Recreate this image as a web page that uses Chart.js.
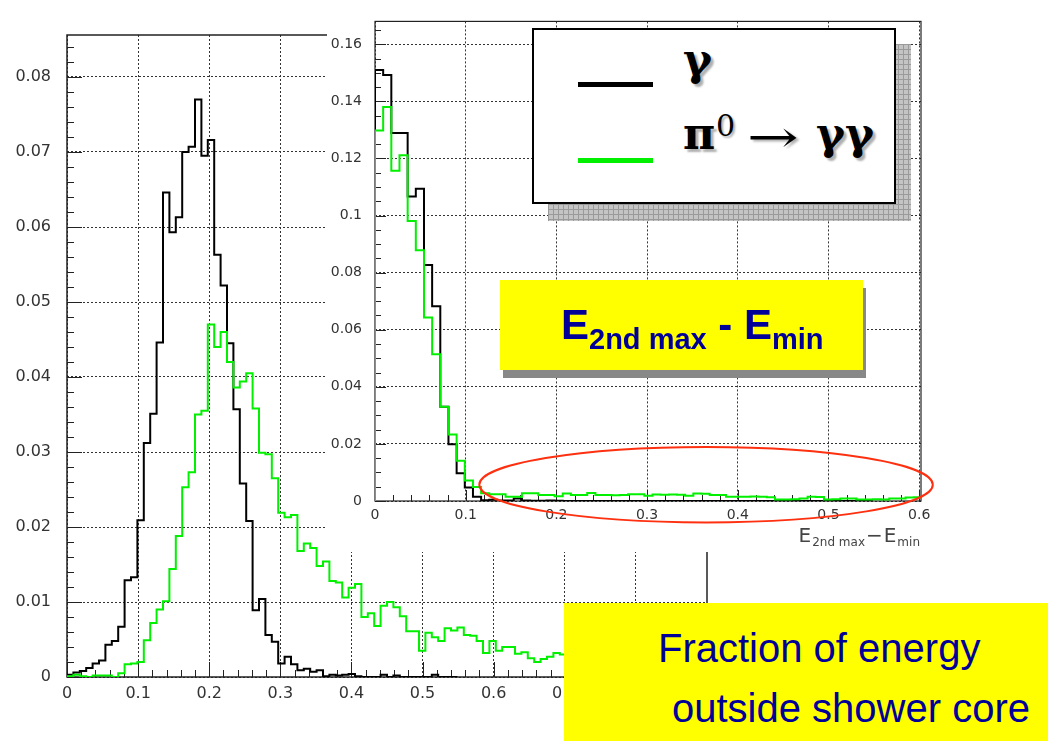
<!DOCTYPE html>
<html>
<head>
<meta charset="utf-8">
<script src="https://cdn.jsdelivr.net/npm/chart.js@4.4.1/dist/chart.umd.min.js"></script>
<style>
  html, body { margin: 0; padding: 0; background: #fff; }
  body { position: relative; width: 1048px; height: 741px; overflow: hidden; }
  canvas { position: absolute; }
  #main-chart { left: 0; top: 0; }
  #inset-chart { left: 327px; top: 0; }
  #pad { position: absolute; left: 327px; top: 0; width: 621px; height: 552px; background: #fff; }
  .box { position: absolute; box-sizing: border-box; }
  .txt { position: absolute; white-space: nowrap; margin: 0; }
  #leg-shadow { left: 548px; top: 44px; width: 363px; height: 177px; background-color: #c4c4c4;
    background-image: linear-gradient(#9a9a9a 1px, transparent 1px), linear-gradient(90deg, #9a9a9a 1px, transparent 1px);
    background-size: 5px 5px; }
  #legend { left: 532px; top: 28px; width: 364px; height: 176px; border: 2px solid #000; background: #fff; }
  #leg-black { left: 578px; top: 82px; width: 75px; height: 5px; background: #000; }
  #leg-green { left: 578px; top: 158px; width: 75px; height: 5px; background: #00f000; }
  .leg { font: bold 44px "DejaVu Serif", serif; line-height: 44px; color: #000; text-shadow: 3px 3px 2px #b0b0b0; }
  .leg0 { font: 30px "DejaVu Serif", serif; line-height: 30px; color: #000; text-shadow: 2px 2px 2px #b0b0b0; }
  .arrow { font: 44px "DejaVu Serif", serif; line-height: 44px; color: #000; transform: scaleX(1.4); transform-origin: 0 50%; text-shadow: 2px 2px 2px #b0b0b0; }
  #ybox1 { left: 500px; top: 280px; width: 363px; height: 90px; background: #ffff00; box-shadow: 3px 8px 0 #888; }
  #ytext1 { left: 561px; top: 304px; font: bold 42px "Liberation Sans", Arial, sans-serif; line-height: 42px; color: #000099; }
  #ytext1 .sb { font-size: 29px; line-height: 0; position: relative; top: 10px; }
  #ybox2 { left: 564px; top: 603px; width: 484px; height: 138px; background: #ffff00; }
  .yt2 { font: 40px "Liberation Sans", Arial, sans-serif; line-height: 40px; color: #000099; }
</style>
</head>
<body>
<canvas id="main-chart" width="1048" height="741"></canvas>
<div id="pad"></div>
<canvas id="inset-chart" width="621" height="552"></canvas>

<div class="box" id="leg-shadow"></div>
<div class="box" id="legend"></div>
<div class="box" id="leg-black"></div>
<div class="box" id="leg-green"></div>
<div class="txt leg" style="left:683px;top:38px">γ</div>
<div class="txt leg" style="left:683px;top:112px">π</div>
<div class="txt leg0" style="left:716px;top:111px">0</div>
<div class="txt arrow" style="left:747px;top:115px">→</div>
<div class="txt leg" style="left:816px;top:112px">γγ</div>

<div class="box" id="ybox1"></div>
<div class="txt" id="ytext1">E<span class="sb">2nd max</span> - E<span class="sb">min</span></div>

<div class="box" id="ybox2"></div>
<div class="txt yt2" style="left:658px;top:628px">Fraction of energy</div>
<div class="txt yt2" style="left:672px;top:688px">outside shower core</div>

<script>
// bin width of both histograms
var binWidth = 0.009;

// main plot: fraction of energy outside shower core
var gammaMain = [0.0003, 0.0006, 0.0008, 0.0012, 0.0018, 0.0022, 0.0043, 0.0048, 0.0067, 0.0129,
  0.0133, 0.0209, 0.0312, 0.0351, 0.0446, 0.0646, 0.0593, 0.0613, 0.0700, 0.0707,
  0.0770, 0.0695, 0.0716, 0.0563, 0.0522, 0.0445, 0.0357, 0.0258, 0.0208, 0.0089,
  0.0104, 0.0056, 0.0047, 0.0018, 0.0027, 0.0017, 0.0009, 0.0011, 0.0007, 0.0009,
  0.0001, 0.0003, 0.0002, 0.0003, 0.0004, 0.0001, 0, 0, 0, 0.0003,
  0, 0.0002, 0, 0, 0, 0, 0, 0.0003, 0, 0, 0];
var pi0Main = [0.0001, 0.0003, 0.0001, 0, 0.0002, 0.0002, 0.0002, 0, 0.0005, 0.0017,
  0.0018, 0.0020, 0.0049, 0.0072, 0.0090, 0.0101, 0.0144, 0.0188, 0.0253, 0.0273,
  0.0350, 0.0355, 0.0470, 0.0440, 0.0460, 0.0420, 0.0386, 0.0394, 0.0405, 0.0358,
  0.0299, 0.0297, 0.0265, 0.0219, 0.0213, 0.0216, 0.0168, 0.0178, 0.0172, 0.0148,
  0.0154, 0.0128, 0.0126, 0.0106, 0.0119, 0.0124, 0.0080, 0.0085, 0.0068, 0.0095,
  0.0100, 0.0093, 0.0081, 0.0061, 0.0061, 0.0035, 0.0059, 0.0053, 0.0048, 0.0065,
  0.0062, 0.0066, 0.0056, 0.0055, 0.0048, 0.0032, 0.0048, 0.0035, 0.0040, 0.0040,
  0.0031, 0.0033, 0.0025, 0.0020, 0.0024, 0.0027, 0.0032, 0.0030];
var mainXTicks = [0, 0.1, 0.2, 0.3, 0.4, 0.5, 0.6, 0.7, 0.8];
var mainYTicks = [0, 0.01, 0.02, 0.03, 0.04, 0.05, 0.06, 0.07, 0.08];

// inset: E2nd max - Emin
var gammaInset = [0.1510, 0.1492, 0.1289, 0.1289, 0.1067, 0.1094, 0.0827, 0.0682, 0.0330, 0.0199,
  0.0097, 0.0047, 0.0015, 0.0003, 0.0004, 0.0002, 0.0002, 0.0009, 0.0002, 0.0001,
  0.0001, 0.0002, 0.0001, 0, 0, 0, 0, 0, 0, 0,
  0, 0, 0, 0, 0, 0, 0, 0, 0, 0,
  0, 0, 0, 0, 0, 0, 0, 0, 0, 0,
  0.0003, 0, 0, 0, 0, 0, 0, 0, 0, 0.0003, 0];
var pi0Inset = [0.1298, 0.1380, 0.1157, 0.1211, 0.0981, 0.0878, 0.0643, 0.0514, 0.0330, 0.0233,
  0.0141, 0.0072, 0.0049, 0.0027, 0.0024, 0.0024, 0.0015, 0.0015, 0.0027, 0.0027,
  0.0021, 0.0021, 0.0017, 0.0026, 0.0021, 0.0021, 0.0028, 0.0021, 0.0021, 0.0020,
  0.0021, 0.0024, 0.0024, 0.0018, 0.0023, 0.0022, 0.0023, 0.0022, 0.0018, 0.0026,
  0.0025, 0.0021, 0.0021, 0.0015, 0.0015, 0.0015, 0.0016, 0.0015, 0.0013, 0.0005,
  0.0005, 0.0006, 0.0009, 0.0015, 0.0014, 0.0005, 0.0006, 0.0009, 0.0009, 0.0005,
  0.0005, 0.0006, 0.0005, 0.0009, 0.0009, 0.0012, 0.0013];
var insetXTicks = [0, 0.1, 0.2, 0.3, 0.4, 0.5, 0.6];
var insetYTicks = [0, 0.02, 0.04, 0.06, 0.08, 0.1, 0.12, 0.14, 0.16];

Chart.defaults.font.family = '"DejaVu Sans", sans-serif';
Chart.defaults.color = '#333';

// histogram outline: one point per bin low edge, held until the next edge
function histPoints(values) {
  var pts = [{ x: 0, y: 0 }];
  values.forEach(function (v, i) { pts.push({ x: i * binWidth, y: v }); });
  pts.push({ x: values.length * binWidth, y: values[values.length - 1] });
  pts.push({ x: values.length * binWidth, y: 0 });
  return pts;
}

function histDataset(label, values, color, order) {
  return {
    label: label,
    data: histPoints(values),
    borderColor: color,
    borderWidth: 2,
    stepped: 'before',
    pointRadius: 0,
    fill: false,
    order: order
  };
}

// ROOT-like frame with tick marks drawn inside the plot
var rootFrame = {
  id: 'rootFrame',
  beforeDatasetsDraw: function (chart, args, o) {
    var ctx = chart.ctx, a = chart.chartArea;
    var xs = chart.scales.x, ys = chart.scales.y;
    var i, v, p, len;
    ctx.save();
    ctx.strokeStyle = '#222';
    ctx.lineWidth = 1;
    ctx.beginPath();
    for (i = 0; (v = i * o.xMinor) <= xs.max + 1e-9; i++) {
      p = Math.round(xs.getPixelForValue(v)) + 0.5;
      len = i % o.xEvery === 0 ? o.major : o.minor;
      ctx.moveTo(p, a.bottom);
      ctx.lineTo(p, a.bottom - len);
    }
    for (i = 0; (v = i * o.yMinor) <= ys.max + 1e-9; i++) {
      p = Math.round(ys.getPixelForValue(v)) + 0.5;
      len = i % o.yEvery === 0 ? o.major : o.minor;
      ctx.moveTo(a.left, p);
      ctx.lineTo(a.left + len, p);
    }
    ctx.stroke();
    ctx.lineWidth = o.frame;
    ctx.strokeRect(a.left, a.top, a.right - a.left, a.bottom - a.top);
    ctx.restore();
  }
};

// red ellipse and axis title of the inset
var insetExtras = {
  id: 'insetExtras',
  afterDraw: function (chart, args, o) {
    var ctx = chart.ctx, xs = chart.scales.x, ys = chart.scales.y, a = chart.chartArea;
    var cx = xs.getPixelForValue(o.ellipse.x), cy = ys.getPixelForValue(o.ellipse.y);
    var rx = xs.getPixelForValue(o.ellipse.x + o.ellipse.rx) - cx;
    var ry = cy - ys.getPixelForValue(o.ellipse.y + o.ellipse.ry);
    ctx.save();
    ctx.strokeStyle = '#ff3010';
    ctx.lineWidth = 2;
    ctx.beginPath();
    ctx.ellipse(cx, cy, rx, ry, 0, 0, Math.PI * 2);
    ctx.stroke();

    var parts = [
      { t: 'E', f: '20px "DejaVu Sans"', dy: 0 },
      { t: '2nd max', f: '12px "DejaVu Sans"', dy: 4 },
      { t: '\u2212', f: '20px "DejaVu Sans"', dy: 0 },
      { t: 'E', f: '20px "DejaVu Sans"', dy: 0 },
      { t: 'min', f: '12px "DejaVu Sans"', dy: 4 }
    ];
    var total = 0;
    parts.forEach(function (pt) { ctx.font = pt.f; pt.w = ctx.measureText(pt.t).width; total += pt.w + 1; });
    var x = a.right - total, base = a.bottom + 41;
    ctx.fillStyle = '#444';
    ctx.textBaseline = 'alphabetic';
    parts.forEach(function (pt) { ctx.font = pt.f; ctx.fillText(pt.t, x, base + pt.dy); x += pt.w + 1; });
    ctx.restore();
  }
};

function axisOptions(ticksList, min, max, size, padding, fitKey, fitValue) {
  return {
    type: 'linear',
    min: min,
    max: max,
    afterBuildTicks: function (s) { s.ticks = ticksList.map(function (v) { return { value: v }; }); },
    afterFit: function (s) { s[fitKey] = fitValue; },
    grid: { color: '#333', lineWidth: 1, drawTicks: false },
    border: { display: false, dash: [2, 2] },
    ticks: {
      autoSkip: false,
      maxRotation: 0,
      padding: padding,
      font: { size: size },
      color: '#333',
      callback: function (v) { return String(v); }
    }
  };
}

new Chart(document.getElementById('main-chart'), {
  type: 'line',
  data: {
    datasets: [
      histDataset('\u03c0\u2070 \u2192 \u03b3\u03b3', pi0Main, '#00f000', 0),
      histDataset('\u03b3', gammaMain, '#000000', 1)
    ]
  },
  options: {
    responsive: false,
    animation: false,
    devicePixelRatio: 1,
    layout: { padding: { left: 0, top: 35, right: 341, bottom: 0 } },
    scales: {
      x: axisOptions(mainXTicks, 0, 0.9, 16, 7, 'height', 64),
      y: axisOptions(mainYTicks, 0, 0.0856, 16, 16, 'width', 67)
    },
    plugins: {
      legend: { display: false },
      tooltip: { enabled: false },
      rootFrame: { xMinor: 0.02, xEvery: 5, yMinor: 0.002, yEvery: 5, major: 15, minor: 7, frame: 1.5 }
    }
  },
  plugins: [rootFrame]
});

new Chart(document.getElementById('inset-chart'), {
  type: 'line',
  data: {
    datasets: [
      histDataset('\u03c0\u2070 \u2192 \u03b3\u03b3', pi0Inset, '#00f000', 0),
      histDataset('\u03b3', gammaInset, '#000000', 1)
    ]
  },
  options: {
    responsive: false,
    animation: false,
    devicePixelRatio: 1,
    layout: { padding: { left: 0, top: 13, right: 27, bottom: 0 } },
    scales: {
      x: axisOptions(insetXTicks, 0, 0.602, 14, 6, 'height', 51),
      y: axisOptions(insetYTicks, 0, 0.168, 14, 13, 'width', 48)
    },
    plugins: {
      legend: { display: false },
      tooltip: { enabled: false },
      rootFrame: { xMinor: 0.02, xEvery: 5, yMinor: 0.005, yEvery: 4, major: 11, minor: 6, frame: 1.2 },
      insetExtras: { ellipse: { x: 0.365, y: 0.0057, rx: 0.25, ry: 0.0132 } }
    }
  },
  plugins: [rootFrame, insetExtras]
});
</script>
</body>
</html>
